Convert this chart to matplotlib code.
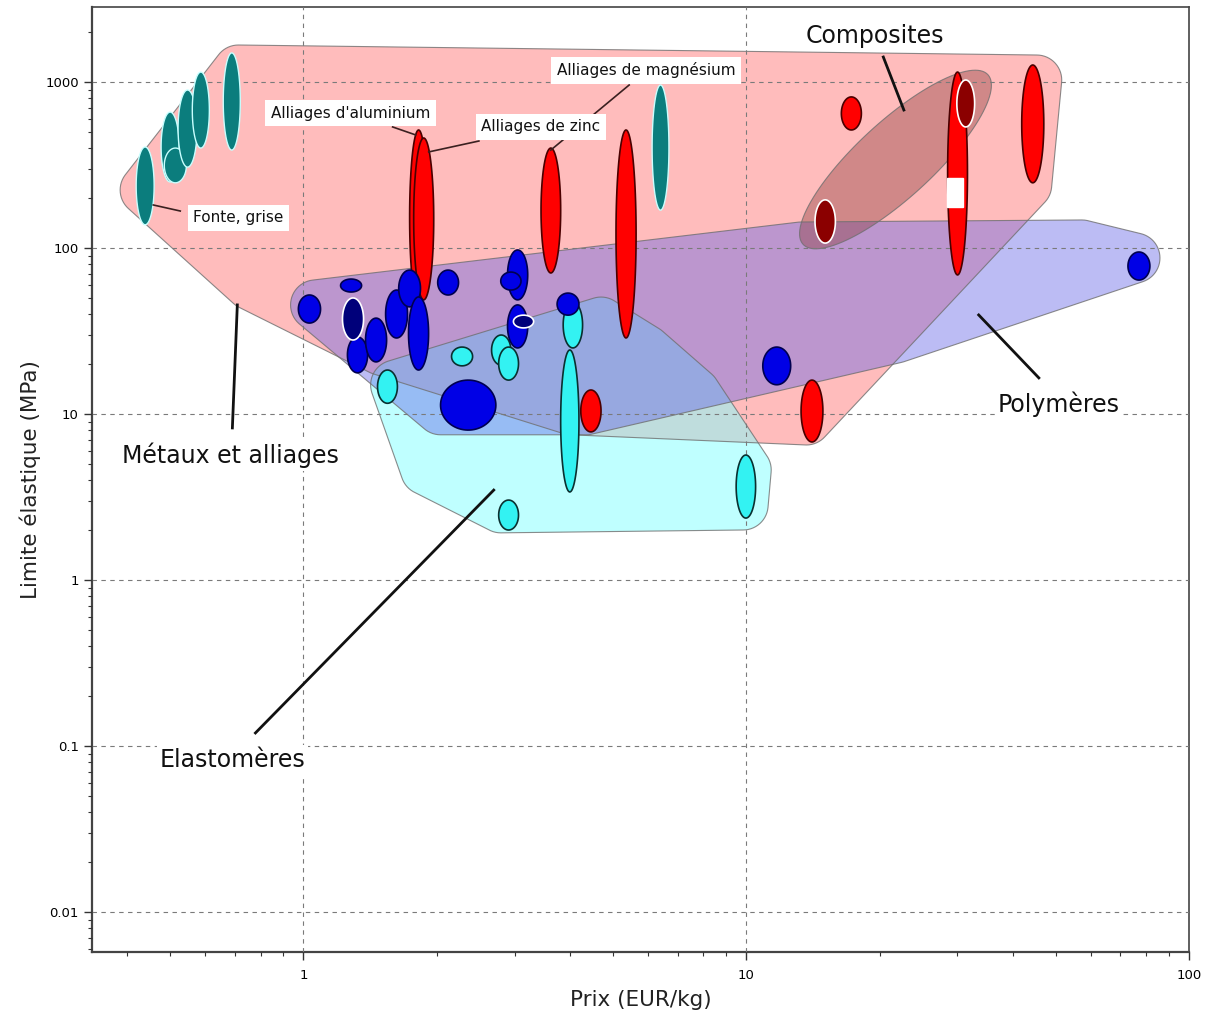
import numpy as np
import matplotlib
matplotlib.use("Agg")
import matplotlib.pyplot as plt

plt.rcParams['font.family'] = ['DejaVu Sans']

# --- données (prix EUR/kg, limite élastique MPa) ---
# fontes grises
fonte_prix_min = [0.419, 0.477, 0.485, 0.521, 0.561, 0.659, 6.13]
fonte_prix_max = [0.460, 0.524, 0.544, 0.575, 0.613, 0.720, 6.69]
fonte_re_min = [138, 250, 247, 307, 400, 389, 169]
fonte_re_max = [406, 659, 400, 895, 1148, 1497, 959]

# autres métaux
metal_prix_min = [1.737, 1.774, 3.44, 5.08, 4.23, 13.3, 16.4, 28.5, 41.9]
metal_prix_max = [1.907, 1.969, 3.81, 5.64, 4.70, 14.9, 18.2, 31.6, 47.0]
metal_re_min = [45.4, 48.7, 70.7, 28.7, 7.8, 6.78, 514, 68.8, 247]
metal_re_max = [514, 460, 400, 514, 13.95, 16.0, 813, 1148, 1266]

# composites
compo_prix_min = [29.9, 14.3]
compo_prix_max = [32.8, 15.9]
compo_re_min = [536, 107]
compo_re_max = [1028, 195]

# polymères
poly_prix_min = [0.974, 1.213, 1.257, 1.381, 1.533, 1.641, 1.727, 2.01, 2.89, 2.79, 2.89, 2.04, 3.74, 10.9, 72.8]
poly_prix_max = [1.093, 1.353, 1.396, 1.541, 1.718, 1.838, 1.917, 2.24, 3.21, 3.10, 3.21, 2.72, 4.19, 12.6, 81.6]
poly_re_min = [35.3, 54.3, 17.7, 20.6, 28.7, 44.2, 18.4, 52.1, 48.7, 55.8, 25.0, 8.0, 39.4, 15.0, 64.1]
poly_re_max = [52.1, 65.0, 29.1, 37.8, 55.8, 73.6, 50.7, 73.6, 97.3, 71.6, 45.4, 16.0, 53.5, 25.3, 94.6]

# polymères (sélection, foncés)
poly2_prix_min = [1.225, 2.98]
poly2_prix_max = [1.367, 3.31]
poly2_re_min = [27.9, 33.0]
poly2_re_max = [50.0, 39.4]

# élastomères
elast_prix_min = [1.47, 2.16, 2.66, 2.76, 3.86, 3.81, 9.49, 2.76]
elast_prix_max = [1.63, 2.41, 2.94, 3.06, 4.27, 4.19, 10.5, 3.06]
elast_re_min = [11.6, 19.5, 19.7, 16.0, 25.0, 3.39, 2.36, 2.0]
elast_re_max = [18.4, 25.3, 29.9, 25.3, 47.3, 24.3, 5.66, 3.03]

# enveloppes des familles (points d'appui)
env_metal_x = [0.713, 0.439, 0.759, 1.494, 4.02, 13.67, 43.0, 45.3]
env_metal_y = [1181, 223.6, 59.8, 24.3, 10.6, 9.2, 239.6, 1028]
env_poly_x = [1.065, 2.04, 4.35, 21.8, 75.5, 57.3, 13.3]
env_poly_y = [45.4, 10.6, 10.6, 28.7, 87.1, 104.3, 101.4]
env_elast_x = [1.615, 1.888, 2.79, 9.84, 10.0, 7.67, 5.94, 4.70]
env_elast_y = [14.95, 4.60, 2.72, 2.83, 4.60, 13.4, 24.3, 35.8]
env_compo_x = [15.25, 30.97]
env_compo_y = [143.4, 812]

fig = plt.figure(figsize=(12.11, 10.21), dpi=100)
ax = fig.add_axes([92/1211, 69/1021, 1097/1211, 945/1021])
ax.set_xscale('log')
ax.set_yscale('log')
ax.set_xlim(0.333, 100)
ax.set_ylim(0.00574, 2830)


def hull(p):
    p = sorted(map(tuple, p))
    def cross(o, a, b):
        return (a[0]-o[0])*(b[1]-o[1]) - (a[1]-o[1])*(b[0]-o[0])
    lower, upper = [], []
    for q in p:
        while len(lower) >= 2 and cross(lower[-2], lower[-1], q) <= 0:
            lower.pop()
        lower.append(q)
    for q in reversed(p):
        while len(upper) >= 2 and cross(upper[-2], upper[-1], q) <= 0:
            upper.pop()
        upper.append(q)
    return np.array(lower[:-1] + upper[:-1])


def dessine_env(h, fc, alpha):
    ax.fill(h[:, 0], h[:, 1], facecolor=fc, alpha=alpha, edgecolor='none', zorder=1)
    ax.fill(h[:, 0], h[:, 1], facecolor='none', edgecolor='#6f6f6f', lw=0.8, alpha=0.8, zorder=1.1)


def envelope(xs, ys, r, fc, alpha):
    pts = ax.transData.transform(np.column_stack([xs, ys]))
    t = np.linspace(0, 2*np.pi, 60, endpoint=False)
    circ = np.column_stack([np.cos(t), np.sin(t)]) * r
    allp = (pts[:, None, :] + circ[None, :, :]).reshape(-1, 2)
    dessine_env(ax.transData.inverted().transform(hull(allp)), fc, alpha)


def envelope_ellipse(xs, ys, pad, b, fc, alpha):
    # ellipse (en pixels) qui englobe les deux points d'appui
    p = ax.transData.transform(np.column_stack([xs, ys]))
    c = p.mean(axis=0)
    d = p[1] - p[0]
    a = np.hypot(*d) / 2 + pad
    ang = np.arctan2(d[1], d[0])
    t = np.linspace(0, 2*np.pi, 120)
    ex, ey = a*np.cos(t), b*np.sin(t)
    pts = np.column_stack([c[0] + ex*np.cos(ang) - ey*np.sin(ang),
                           c[1] + ex*np.sin(ang) + ey*np.cos(ang)])
    dessine_env(ax.transData.inverted().transform(pts), fc, alpha)


def bulles(pmin, pmax, rmin, rmax, fc, ec, lw=1.2):
    t = np.linspace(0, 2*np.pi, 80)
    for a, b, c, d in zip(pmin, pmax, rmin, rmax):
        cx, cy = (np.log10(a)+np.log10(b))/2, (np.log10(c)+np.log10(d))/2
        sx, sy = (np.log10(b)-np.log10(a))/2, (np.log10(d)-np.log10(c))/2
        ax.fill(10**(cx+sx*np.cos(t)), 10**(cy+sy*np.sin(t)),
                facecolor=fc, edgecolor=ec, lw=lw, zorder=3)


envelope(env_metal_x, env_metal_y, 25, '#ff6b6b', 0.45)
envelope(env_elast_x, env_elast_y, 25, '#80ffff', 0.5)
envelope(env_poly_x, env_poly_y, 25, '#6464e6', 0.43)
envelope_ellipse(env_compo_x, env_compo_y, 33, 38, '#8b3a3a', 0.4)

ax.grid(True, which='major', color='#7a7a7a', linestyle=(0, (4, 4)), lw=0.8, zorder=1.5)
ax.set_axisbelow(False)

bulles(fonte_prix_min, fonte_prix_max, fonte_re_min, fonte_re_max, '#0b7d7d', '#c8ffff', 1.0)
bulles(metal_prix_min, metal_prix_max, metal_re_min, metal_re_max, '#ff0000', '#4a0000')
bulles(compo_prix_min, compo_prix_max, compo_re_min, compo_re_max, '#8b0000', '#ffffff')
bulles(elast_prix_min, elast_prix_max, elast_re_min, elast_re_max, '#33f2f2', '#0a3030')
bulles(poly_prix_min, poly_prix_max, poly_re_min, poly_re_max, '#0000e6', '#000050')
bulles(poly2_prix_min, poly2_prix_max, poly2_re_min, poly2_re_max, '#00007a', '#ffffff')
ax.fill([28.4, 30.9, 30.9, 28.4], [176.6, 176.6, 264, 264], color='white', zorder=3.5)

# lignes de rappel
ax.plot([20.4, 22.7], [1414, 678], color='#111111', lw=2, zorder=4)
ax.plot([0.691, 0.709], [8.24, 45.4], color='#111111', lw=2, zorder=4)
ax.plot([33.5, 45.8], [39.5, 16.5], color='#111111', lw=2, zorder=4)
ax.plot([0.779, 2.69], [0.1198, 3.48], color='#111111', lw=2, zorder=4)
ax.plot([5.44, 3.62], [959, 389], color='#3a2020', lw=1.2, zorder=4)
ax.plot([2.49, 1.918], [441, 379], color='#3a2020', lw=1.2, zorder=4)
ax.plot([1.590, 1.792], [536, 480], color='#3a2020', lw=1.2, zorder=4)
ax.plot([0.458, 0.527], [181.6, 167], color='#3a2020', lw=1.2, zorder=4)

gros = dict(fontsize=17, ha='center', va='center', color='#111111', zorder=5,
            bbox=dict(facecolor='white', edgecolor='none', pad=2))
ax.text(19.5, 1892, 'Composites', **gros)
ax.text(0.684, 5.66, 'Métaux et alliages', **gros)
ax.text(50.8, 11.48, 'Polymères', **gros)
ax.text(0.691, 0.0824, 'Elastomères', **gros)

petit = dict(fontsize=11, ha='center', va='center', color='#111111', zorder=5,
             bbox=dict(facecolor='white', edgecolor='none', pad=4))
ax.text(5.94, 1181, 'Alliages de magnésium', **petit)
ax.text(3.44, 536, 'Alliages de zinc', **petit)
ax.text(1.277, 650, "Alliages d'aluminium", **petit)
ax.text(0.713, 151.8, 'Fonte, grise', **petit)

ax.set_xticks([1, 10, 100])
ax.set_xticklabels(['1', '10', '100'])
ax.set_yticks([0.01, 0.1, 1, 10, 100, 1000])
ax.set_yticklabels(['0.01', '0.1', '1', '10', '100', '1000'])
ax.tick_params(which='major', length=6, width=1, labelsize=9.5, color='#333333')
ax.tick_params(which='minor', length=3, width=0.8, color='#333333')
ax.tick_params(axis='x', which='major', pad=6)

for s in ax.spines.values():
    s.set_color('#444444')
    s.set_linewidth(1.2)
ax.spines['left'].set_linewidth(1.6)
ax.spines['bottom'].set_linewidth(1.6)

ax.set_xlabel('Prix (EUR/kg)', fontsize=15.5, labelpad=6, color='#222222')
ax.set_ylabel('Limite élastique (MPa)', fontsize=15.5, labelpad=3, color='#222222')

fig.savefig('out.png', dpi=100, facecolor='white')
